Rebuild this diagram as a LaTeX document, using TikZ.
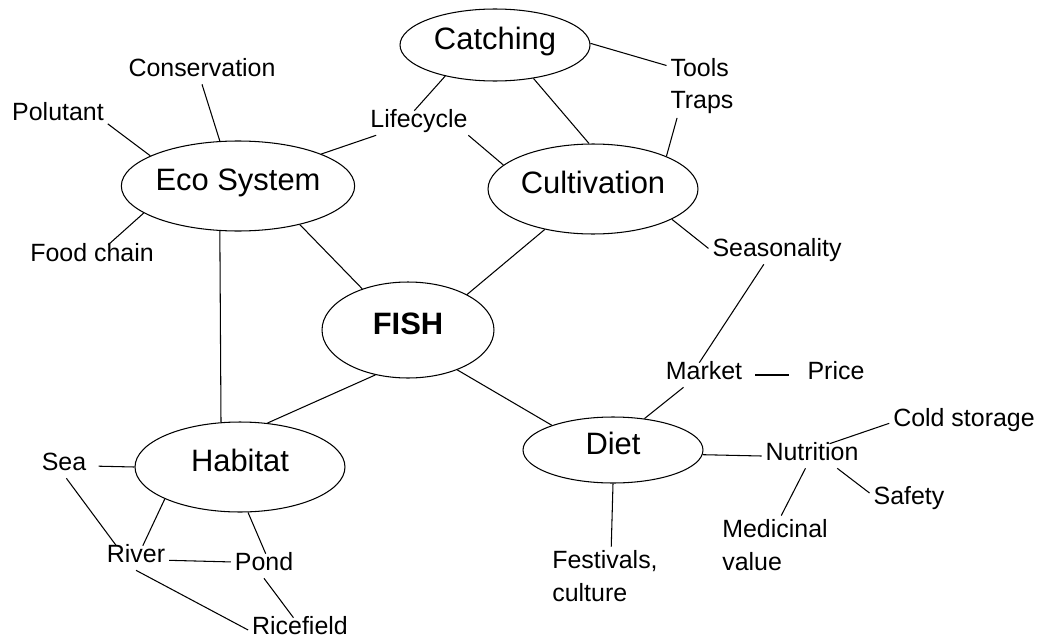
\documentclass[tikz,border=0pt]{standalone}
\usepackage{fontspec}
\setmainfont{Liberation Sans}
\usetikzlibrary{shapes.geometric}
\begin{document}
\begin{tikzpicture}[x=0.02cm,y=-0.02cm,line width=0.6pt,
  topic/.style={draw,ellipse,inner sep=0pt,font=\fontsize{17.6}{21}\selectfont,text height=0.72em,text depth=0.22em},
  leaf/.style={inner sep=2pt,font=\fontsize{14.2}{18}\selectfont,text height=0.72em,text depth=0.22em},
  leaves/.style={inner sep=2pt,align=left,font=\fontsize{14.2}{18.5}\selectfont}]
\useasboundingbox (0,0) rectangle (1051,639);
\node[topic,minimum width=3.8cm,minimum height=1.44cm] (catch) at (495,45) {Catching};
\node[topic,minimum width=4.2cm,minimum height=1.8cm] (eco) at (238,186) {Eco System};
\node[topic,minimum width=4.2cm,minimum height=1.8cm] (cult) at (593,189) {Cultivation};
\node[topic,minimum width=3.44cm,minimum height=1.92cm] (fish) at (408,330) {\bfseries FISH};
\node[topic,minimum width=4.2cm,minimum height=1.8cm] (hab) at (240,467) {Habitat};
\node[topic,minimum width=3.6cm,minimum height=1.32cm] (diet) at (613,450) {Diet};
\node[leaf] (cons) at (202,72) {Conservation};
\node[leaf] (pol) at (58,116) {Polutant};
\node[leaf] (life) at (419,123) {Lifecycle};
\node[leaf] (food) at (92,257) {Food chain};
\node[leaves] (tools) at (702,86) {Tools\\Traps};
\node[leaf] (seas) at (777,252) {Seasonality};
\node[leaf] (market) at (704,375) {Market};
\node[leaf] (price) at (836,375) {Price};
\node[leaf] (cold) at (964,422) {Cold storage};
\node[leaf] (nut) at (812,456) {Nutrition};
\node[leaf] (safe) at (909,500) {Safety};
\node[leaves] (med) at (775,545) {Medicinal\\value};
\node[leaves] (fest) at (605,576) {Festivals,\\culture};
\node[leaf] (sea) at (64,466) {Sea};
\node[leaf] (river) at (136,558) {River};
\node[leaf] (pond) at (264,566) {Pond};
\node[leaf] (rice) at (300,630) {Ricefield};
% eco system
\draw (cons.270) -- (eco.112);
\draw (pol.351) -- (eco.161);
\draw (food.37) -- (eco.196);
\draw (life.196) -- (eco.21);
% catching and cultivation
\draw (life.111) -- (catch.212);
\draw (life.346) -- (cult.165);
\draw (catch.319) -- (cult.95);
\draw (catch.1) -- (tools.150);
\draw (tools.232) -- (cult.24);
\draw (cult.339) -- (seas.177);
% fish
\draw (cult.220) -- (fish.31);
\draw (eco.328) -- (fish.138);
\draw (eco.248) -- (hab.113);
\draw (fish.234) -- (hab.58);
\draw (fish.321) -- (diet.158);
% diet
\draw (seas.223) -- (market.111);
\draw (market.211) -- (diet.45);
\draw[shorten <=0.18cm,shorten >=0.29cm] (market.0) -- (price.180);
\draw (diet.357) -- (nut.180);
\draw (diet.270) -- (fest.78);
\draw (nut.35) -- (cold.181);
\draw (nut.334) -- (safe.170);
\draw (nut.242) -- (med.78);
% habitat
\draw[shorten <=0.17cm] (sea.0) -- (hab.180);
\draw (sea.281) -- (river.148);
\draw (hab.203) -- (river.61);
\draw (hab.280) -- (pond.82);
\draw (river.356) -- (pond.173);
\draw (river.270) -- (rice.180);
\draw (pond.270) -- (rice.118);
\end{tikzpicture}
\end{document}
